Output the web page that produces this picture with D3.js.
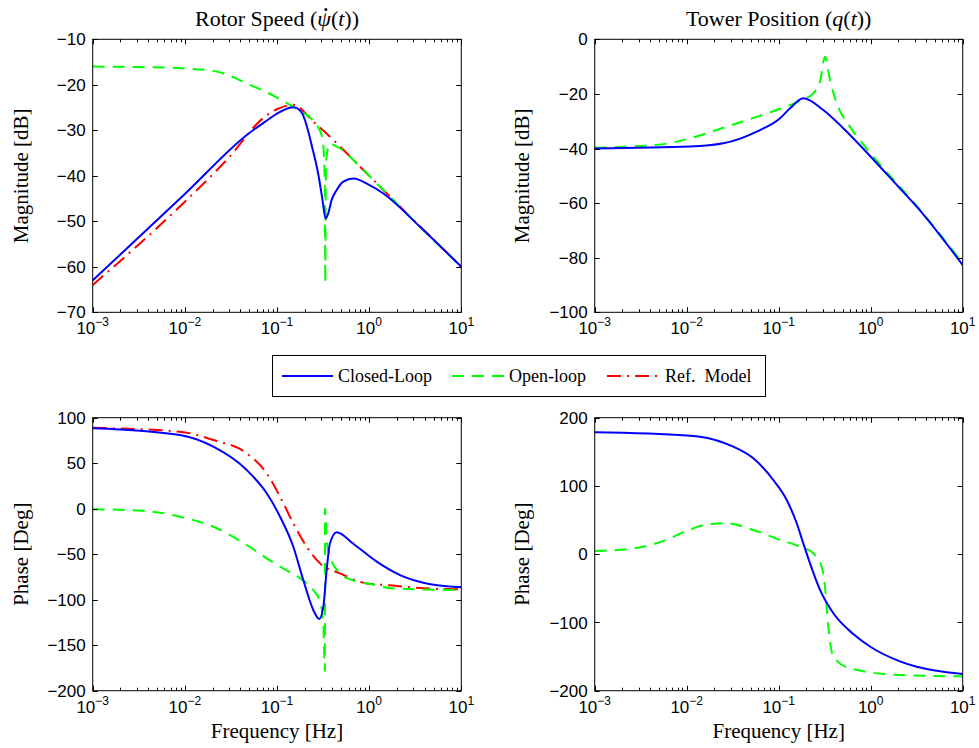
<!DOCTYPE html>
<html>
<head>
<meta charset="utf-8">
<script src="https://cdn.jsdelivr.net/npm/d3@7"></script>
<style>
  body { margin: 0; background: #fff; }
  svg { display: block; }
  .tick-label { font-family: "Liberation Sans", Arial, sans-serif; font-size: 17px; fill: #000; }
  .serif { font-family: "Liberation Serif", "Times New Roman", serif; fill: #000; }
</style>
</head>
<body>
<div id="chart"></div>
<script>
// ---- data (frequency in Hz, magnitude in dB, phase in deg) ----

const decadeExps = [-3, -2, -1, 0, 1];
const legendNames = ["Closed-Loop", "Open-loop", "Ref.  Model"];

// Rotor speed, magnitude
const rsMagCL_f = [0.001, 0.01, 0.0493, 0.0746, 0.1042, 0.1517, 0.1866, 0.21, 0.2399, 0.2838, 0.31, 0.337, 0.3606, 0.3917, 0.4446, 0.5248, 0.673, 1.0, 1.425, 3.56, 10];
const rsMagCL   = [-63, -44, -30.7, -28.1, -26.1, -24.95, -26.2, -29, -33.6, -40.2, -45, -49.4, -48.2, -45.3, -43.1, -41.3, -40.6, -42, -43.9, -51.2, -60];
const rsMagOL_f = [0.001, 0.0032, 0.01, 0.0221, 0.0509, 0.1, 0.1778, 0.2399, 0.309, 0.322, 0.33, 0.3342, 0.338, 0.345, 0.37, 0.483, 0.796, 1.425, 3.56, 10];
const rsMagOL   = [-16, -16.1, -16.4, -17.1, -20, -22.8, -25.8, -27.6, -31.4, -35, -42, -63.5, -42, -36, -33, -34, -38, -43.1, -51.2, -60];
const rsMagRef_f = [0.001, 0.01, 0.03, 0.0718, 0.1042, 0.1503, 0.2477, 0.408, 0.673, 1.109, 1.828, 3.28, 10];
const rsMagRef   = [-64, -45.7, -36, -27.2, -25.2, -24.4, -28.1, -32.1, -36.5, -40.9, -45.3, -50.4, -60];

// Tower position, magnitude
const tpMagCL_f = [0.001, 0.0109, 0.025, 0.0577, 0.1035, 0.1327, 0.185, 0.305, 0.5, 1, 2, 3.162, 10];
const tpMagCL   = [-40, -39.3, -38.1, -33.8, -28.9, -25.3, -21.6, -25.9, -32.5, -43, -54, -61.3, -82.7];
const tpMagOL_f = [0.001, 0.0031, 0.00557, 0.01, 0.025, 0.0577, 0.1327, 0.185, 0.2377, 0.281, 0.3186, 0.361, 0.4266, 0.596, 1, 3.162, 10];
const tpMagOL   = [-39.7, -39.1, -38.4, -36.6, -32.4, -28.4, -24.1, -22, -19.8, -15.5, -6.4, -14.9, -23.4, -32, -41.8, -61, -82];

// Rotor speed, phase
const rsPhCL_f = [0.001, 0.00885, 0.0204, 0.0469, 0.0773, 0.1079, 0.1503, 0.1928, 0.2477, 0.2877, 0.3184, 0.3459, 0.3758, 0.4446, 0.673, 1.208, 2.163, 3.873, 10];
const rsPhCL   = [88.5, 81, 68.1, 42.5, 16.9, -8.8, -41.8, -78.4, -111.3, -121.2, -107.7, -67.4, -38, -25.8, -38.5, -58.2, -72.9, -81.3, -86.4];
const rsPhOL_f = [0.001, 0.0042, 0.00885, 0.0204, 0.0469, 0.0773, 0.1079, 0.1778, 0.2477, 0.2931, 0.318, 0.331, 0.332, 0.3459, 0.3758, 0.4831, 0.6194, 1.312, 1.683, 10];
const rsPhOL   = [-0.5, -3, -8.8, -19.8, -39.9, -54.5, -63.7, -76.5, -89.4, -102.2, -126, -178, 0, -34.4, -52.7, -71, -77.6, -84.6, -87.5, -89.4];
const rsPhRef_f = [0.001, 0.00885, 0.0204, 0.0469, 0.0773, 0.1079, 0.1503, 0.21, 0.2931, 0.4831, 0.9397, 1.683, 4, 10];
const rsPhRef   = [89, 84.6, 75.5, 60.9, 38.9, 13.2, -16, -41.8, -60.1, -71.1, -82.1, -84.2, -87.5, -88.6];

// Tower position, phase
const tpPhCL_f = [0.001, 0.01, 0.01396, 0.0321, 0.053, 0.0873, 0.1222, 0.157, 0.1849, 0.2188, 0.2812, 0.3926, 0.6471, 1.0, 2.08, 3.162, 5.0, 10];
const tpPhCL   = [178.6, 173.8, 172.2, 157.5, 140.5, 108.7, 79.4, 45.3, 16, -13.3, -52.4, -86.6, -117, -136, -157, -165, -170.5, -175.5];
const tpPhOL_f = [0.001, 0.0024, 0.0047, 0.0107, 0.01396, 0.0272, 0.053, 0.1033, 0.1706, 0.2377, 0.2931, 0.3184, 0.3459, 0.3926, 0.5957, 2.08, 10];
const tpPhOL   = [4.7, 7.6, 16, 35.5, 41.3, 45.3, 35.5, 20.9, 11.1, 1.3, -18.3, -47.6, -106.2, -150.1, -167.2, -177, -179];

const rsMagTicks = [-70, -60, -50, -40, -30, -20, -10];
const tpMagTicks = [-100, -80, -60, -40, -20, 0];
const rsPhTicks = [-200, -150, -100, -50, 0, 50, 100];
const tpPhTicks = [-200, -100, 0, 100, 200];

// ---- styles ----
const styles = {
  cl: { color: "#0000ff", dash: null },
  ol: { color: "#00ff00", dash: "12,8" },
  ref: { color: "#ff0000", dash: "14,6,2,6" }
};

const W = 979, H = 748;
const svg = d3.select("#chart").append("svg").attr("width", W).attr("height", H);

function zip(fs, vs) {
  return fs.map((f, i) => ({ f: f, v: vs[i] }));
}

function fmt(v) {
  return v < 0 ? "\u2212" + Math.abs(v) : String(v);
}

function drawPanel(cfg) {
  const g = svg.append("g");
  const x = d3.scaleLog().domain([1e-3, 10]).range([cfg.left, cfg.right]);
  const y = d3.scaleLinear().domain(cfg.yDomain).range([cfg.bottom, cfg.top]);

  const clipId = "clip" + cfg.id;
  g.append("clipPath").attr("id", clipId).append("rect")
    .attr("x", cfg.left).attr("y", cfg.top)
    .attr("width", cfg.right - cfg.left).attr("height", cfg.bottom - cfg.top);

  // curves (closed-loop drawn last so it sits on top, like the figure)
  const line = d3.line().x(d => x(d.f)).y(d => y(d.v)).curve(d3.curveMonotoneX);
  cfg.series.forEach(s => {
    g.append("path")
      .attr("clip-path", "url(#" + clipId + ")")
      .attr("d", line(zip(s.f, s.v)))
      .attr("fill", "none")
      .attr("stroke", styles[s.style].color)
      .attr("stroke-width", 2)
      .attr("stroke-dasharray", styles[s.style].dash);
  });

  // box
  g.append("rect")
    .attr("x", cfg.left).attr("y", cfg.top)
    .attr("width", cfg.right - cfg.left).attr("height", cfg.bottom - cfg.top)
    .attr("fill", "none").attr("stroke", "#000").attr("stroke-width", 1);

  // y ticks (inside, both sides)
  cfg.yTicks.forEach(t => {
    const yy = Math.round(y(t)) + 0.5;
    g.append("line").attr("x1", cfg.left).attr("x2", cfg.left + 5).attr("y1", yy).attr("y2", yy).attr("stroke", "#000");
    g.append("line").attr("x1", cfg.right - 5).attr("x2", cfg.right).attr("y1", yy).attr("y2", yy).attr("stroke", "#000");
    g.append("text").attr("class", "tick-label")
      .attr("x", cfg.left - 7).attr("y", y(t)).attr("dy", "0.36em")
      .attr("text-anchor", "end").text(fmt(t));
  });

  // x ticks: decades + minor
  const minor = [];
  for (let e = -3; e < 1; e++) {
    for (let k = 2; k <= 9; k++) minor.push(k * Math.pow(10, e));
  }
  minor.forEach(f => {
    const xx = Math.round(x(f)) + 0.5;
    g.append("line").attr("x1", xx).attr("x2", xx).attr("y1", cfg.bottom).attr("y2", cfg.bottom - 3).attr("stroke", "#000");
    g.append("line").attr("x1", xx).attr("x2", xx).attr("y1", cfg.top).attr("y2", cfg.top + 3).attr("stroke", "#000");
  });
  decadeExps.forEach(e => {
    const f = Math.pow(10, e);
    const xx = Math.round(x(f)) + 0.5;
    g.append("line").attr("x1", xx).attr("x2", xx).attr("y1", cfg.bottom).attr("y2", cfg.bottom - 5).attr("stroke", "#000");
    g.append("line").attr("x1", xx).attr("x2", xx).attr("y1", cfg.top).attr("y2", cfg.top + 5).attr("stroke", "#000");
    const lab = g.append("text").attr("class", "tick-label")
      .attr("x", x(f)).attr("y", cfg.bottom + 22).attr("text-anchor", "middle");
    lab.append("tspan").text("10");
    lab.append("tspan").attr("dy", -8).attr("font-size", 12).text(fmt(e));
  });

  // labels
  const cx = (cfg.left + cfg.right) / 2, cy = (cfg.top + cfg.bottom) / 2;
  g.append("text").attr("class", "serif").attr("font-size", 21)
    .attr("transform", "translate(" + cfg.yLabelX + "," + cy + ") rotate(-90)")
    .attr("text-anchor", "middle").text(cfg.yLabel);

  if (cfg.title) {
    const t = g.append("text").attr("class", "serif").attr("font-size", 22)
      .attr("x", cx).attr("y", 26).attr("text-anchor", "middle");
    const dotted = [];
    cfg.title.forEach(part => {
      const ts = t.append("tspan").text(part[0]);
      if (part[1]) ts.attr("font-style", "italic");
      if (part[2] === "dot") dotted.push(ts.node());
    });
    // time-derivative dot drawn over the italic glyph
    dotted.forEach(n => {
      const b = n.getBBox();
      g.append("circle").attr("cx", b.x + b.width * 0.62).attr("cy", 9.5).attr("r", 1.5).attr("fill", "#000");
    });
  }
  if (cfg.xLabel) {
    g.append("text").attr("class", "serif").attr("font-size", 21)
      .attr("x", cx).attr("y", 738).attr("text-anchor", "middle").text(cfg.xLabel);
  }
}

const colL = { left: 92.7, right: 461.3 };
const colR = { left: 594.7, right: 962.7 };
const rowT = { top: 39.3, bottom: 312.3 };
const rowB = { top: 417.7, bottom: 690.7 };

drawPanel(Object.assign({ id: "tl", yDomain: [-70, -10], yTicks: rsMagTicks, yLabel: "Magnitude [dB]", yLabelX: 28,
  title: [["Rotor Speed (", false], ["\u03C8", true, "dot"], ["(", false], ["t", true], ["))", false]],
  series: [
    { f: rsMagRef_f, v: rsMagRef, style: "ref" },
    { f: rsMagOL_f, v: rsMagOL, style: "ol" },
    { f: rsMagCL_f, v: rsMagCL, style: "cl" }
  ] }, colL, rowT));

drawPanel(Object.assign({ id: "tr", yDomain: [-100, 0], yTicks: tpMagTicks, yLabel: "Magnitude [dB]", yLabelX: 529,
  title: [["Tower Position (", false], ["q", true], ["(", false], ["t", true], ["))", false]],
  series: [
    { f: tpMagOL_f, v: tpMagOL, style: "ol" },
    { f: tpMagCL_f, v: tpMagCL, style: "cl" }
  ] }, colR, rowT));

drawPanel(Object.assign({ id: "bl", yDomain: [-200, 100], yTicks: rsPhTicks, yLabel: "Phase [Deg]", yLabelX: 28,
  xLabel: "Frequency [Hz]",
  series: [
    { f: rsPhRef_f, v: rsPhRef, style: "ref" },
    { f: rsPhOL_f, v: rsPhOL, style: "ol" },
    { f: rsPhCL_f, v: rsPhCL, style: "cl" }
  ] }, colL, rowB));

drawPanel(Object.assign({ id: "br", yDomain: [-200, 200], yTicks: tpPhTicks, yLabel: "Phase [Deg]", yLabelX: 529,
  xLabel: "Frequency [Hz]",
  series: [
    { f: tpPhOL_f, v: tpPhOL, style: "ol" },
    { f: tpPhCL_f, v: tpPhCL, style: "cl" }
  ] }, colR, rowB));

// ---- legend ----
const legend = svg.append("g");
legend.append("rect").attr("x", 272.5).attr("y", 355.5).attr("width", 493).attr("height", 41)
  .attr("fill", "#fff").attr("stroke", "#000").attr("stroke-width", 1);
const legendItems = [
  { style: "cl", x0: 282, x1: 333, tx: 338 },
  { style: "ol", x0: 452, x1: 506, tx: 509 },
  { style: "ref", x0: 607, x1: 658, tx: 665 }
];
legendItems.forEach((it, i) => {
  legend.append("line").attr("x1", it.x0).attr("x2", it.x1).attr("y1", 376).attr("y2", 376)
    .attr("stroke", styles[it.style].color).attr("stroke-width", 2)
    .attr("stroke-dasharray", styles[it.style].dash);
  legend.append("text").attr("class", "serif").attr("font-size", 18)
    .attr("x", it.tx).attr("y", 382).attr("xml:space", "preserve")
    .style("white-space", "pre").text(legendNames[i]);
});
</script>
</body>
</html>
